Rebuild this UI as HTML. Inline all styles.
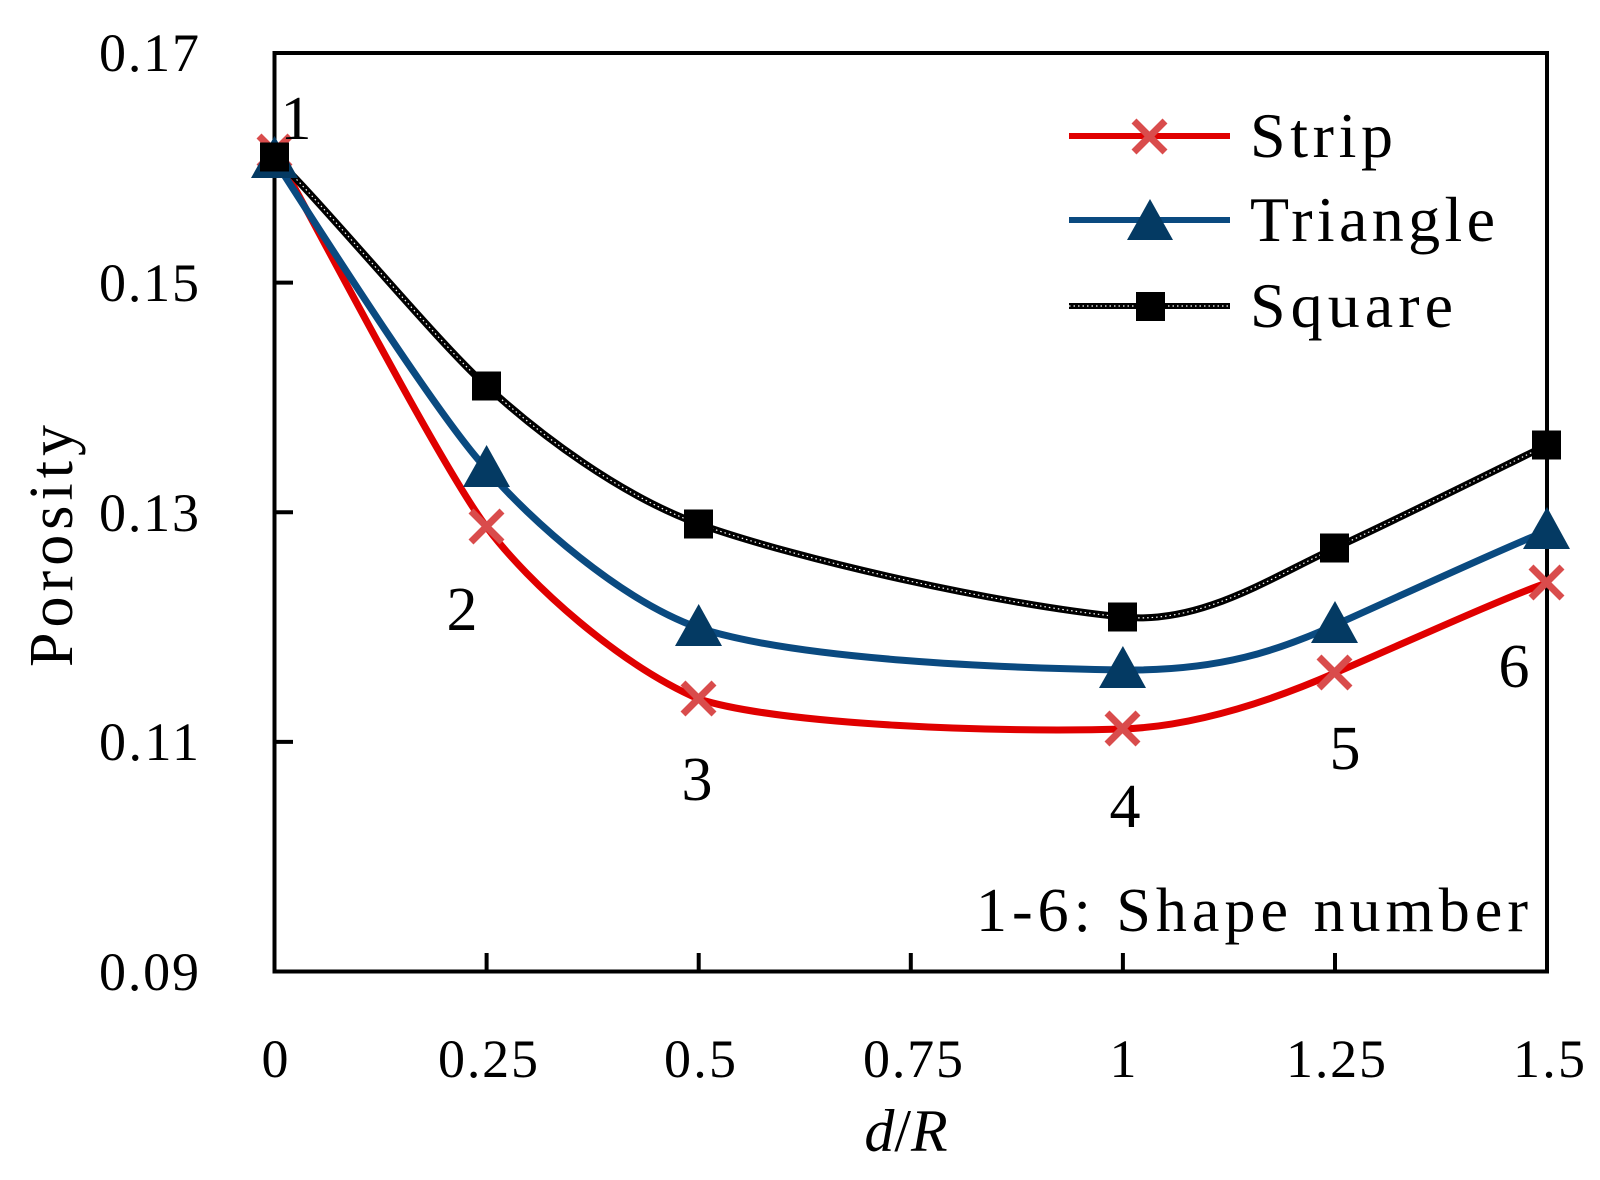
<!DOCTYPE html>
<html><head><meta charset="utf-8"><style>html,body{margin:0;padding:0;background:#fff}svg{display:block}</style></head>
<body>
<svg width="1600" height="1180" viewBox="0 0 1600 1180" xmlns="http://www.w3.org/2000/svg" font-family="'Liberation Serif', serif">
<rect width="1600" height="1180" fill="#fff"/>
<rect x="274.5" y="53" width="1272.5" height="918.5" fill="none" stroke="#000" stroke-width="4"/>
<g stroke="#000" stroke-width="4">
<line x1="274.5" y1="53" x2="293" y2="53"/>
<line x1="274.5" y1="282.6" x2="293" y2="282.6"/>
<line x1="274.5" y1="512.2" x2="293" y2="512.2"/>
<line x1="274.5" y1="741.9" x2="293" y2="741.9"/>
<line x1="486.6" y1="971.5" x2="486.6" y2="953"/>
<line x1="698.7" y1="971.5" x2="698.7" y2="953"/>
<line x1="910.8" y1="971.5" x2="910.8" y2="953"/>
<line x1="1122.9" y1="971.5" x2="1122.9" y2="953"/>
<line x1="1335" y1="971.5" x2="1335" y2="953"/>
<line x1="1547" y1="971.5" x2="1547" y2="953"/>
</g>
<g font-size="54" text-anchor="end">
<text x="199" y="71" textLength="100">0.17</text>
<text x="199" y="301" textLength="100">0.15</text>
<text x="199" y="531" textLength="100">0.13</text>
<text x="199" y="760" textLength="100">0.11</text>
<text x="199" y="990" textLength="100">0.09</text>
</g>
<g font-size="54" text-anchor="middle">
<text x="275" y="1077">0</text>
<text x="488" y="1077" textLength="100">0.25</text>
<text x="700" y="1077" textLength="72">0.5</text>
<text x="913" y="1077" textLength="100">0.75</text>
<text x="1123" y="1077">1</text>
<text x="1336" y="1077" textLength="100">1.25</text>
<text x="1549" y="1077" textLength="72">1.5</text>
</g>
<text x="906" y="1151" font-size="60" text-anchor="middle"><tspan font-style="italic">d</tspan>/<tspan font-style="italic">R</tspan></text>
<text transform="translate(72,546) rotate(-90)" font-size="62" text-anchor="middle" textLength="242">Porosity</text>
<path d="M274.5,151 C310,214 440,465 486.6,527 C530,585 620,665 698.7,699 C780,725 1000,733 1122.9,729 C1200,726 1280,697 1335,673 C1400,645 1510,595 1547,583" fill="none" stroke="#e00000" stroke-width="7"/>
<path d="M274.5,160 C310,215 440,420 486.6,469 C530,520 620,600 698.7,628 C800,660 1000,668 1122.9,670 C1220,671 1280,650 1335,625 C1400,596 1510,545 1547,531" fill="none" stroke="#0a4a80" stroke-width="7"/>
<path d="M274.5,157 C320,200 440,345 486.6,386 C540,435 620,495 698.7,524 C800,560 1000,605 1122.9,617 C1200,625 1270,578 1335,548 C1400,518 1500,468 1547,445" fill="none" stroke="#000" stroke-width="7"/>
<path d="M274.5,157 C320,200 440,345 486.6,386 C540,435 620,495 698.7,524 C800,560 1000,605 1122.9,617 C1200,625 1270,578 1335,548 C1400,518 1500,468 1547,445" fill="none" stroke="#fff" stroke-width="1.2" stroke-dasharray="1.5,3"/>
<g stroke="#d94c4c" stroke-width="7">
<path d="M259,136 l31,31 m0,-31 l-31,31"/>
<path d="M471,511 l31,31 m0,-31 l-31,31"/>
<path d="M683,683 l31,31 m0,-31 l-31,31"/>
<path d="M1107,713 l31,31 m0,-31 l-31,31"/>
<path d="M1319,657 l31,31 m0,-31 l-31,31"/>
<path d="M1531,567 l31,31 m0,-31 l-31,31"/>
</g>
<g fill="#043a63">
<polygon points="274.5,136 251,178 298,178"/>
<polygon points="486.6,445 463,487 510,487"/>
<polygon points="698.7,604 675,646 722,646"/>
<polygon points="1122.9,646 1099,688 1146,688"/>
<polygon points="1335,601 1311,643 1358,643"/>
<polygon points="1547,507 1523,549 1570,549"/>
</g>
<g fill="#000">
<rect x="260" y="142.5" width="29" height="29"/>
<rect x="472" y="371.5" width="29" height="29"/>
<rect x="684" y="509.5" width="29" height="29"/>
<rect x="1108" y="602.5" width="29" height="29"/>
<rect x="1320" y="533.5" width="29" height="29"/>
<rect x="1532" y="430.5" width="29" height="29"/>
</g>
<g font-size="62" text-anchor="middle">
<text x="296" y="139">1</text>
<text x="462" y="630">2</text>
<text x="697" y="800">3</text>
<text x="1125" y="827">4</text>
<text x="1345" y="769">5</text>
<text x="1514" y="687">6</text>
</g>
<text x="1528" y="931" font-size="62" text-anchor="end" textLength="552">1-6: Shape number</text>
<line x1="1069" y1="136" x2="1230" y2="136" stroke="#e00000" stroke-width="6"/>
<path d="M1134,121 l31,31 m0,-31 l-31,31" stroke="#d94c4c" stroke-width="7"/>
<line x1="1069" y1="220" x2="1230" y2="220" stroke="#0a4a80" stroke-width="6"/>
<polygon points="1150,199 1127,240 1173,240" fill="#043a63"/>
<line x1="1069" y1="306" x2="1230" y2="306" stroke="#000" stroke-width="6"/>
<line x1="1069" y1="306" x2="1230" y2="306" stroke="#fff" stroke-width="1.2" stroke-dasharray="1.5,3"/>
<rect x="1136" y="292" width="29" height="29" fill="#000"/>
<g font-size="64">
<text x="1250" y="157" textLength="143">Strip</text>
<text x="1250" y="241" textLength="245">Triangle</text>
<text x="1250" y="327" textLength="203">Square</text>
</g>
</svg>
</body></html>
